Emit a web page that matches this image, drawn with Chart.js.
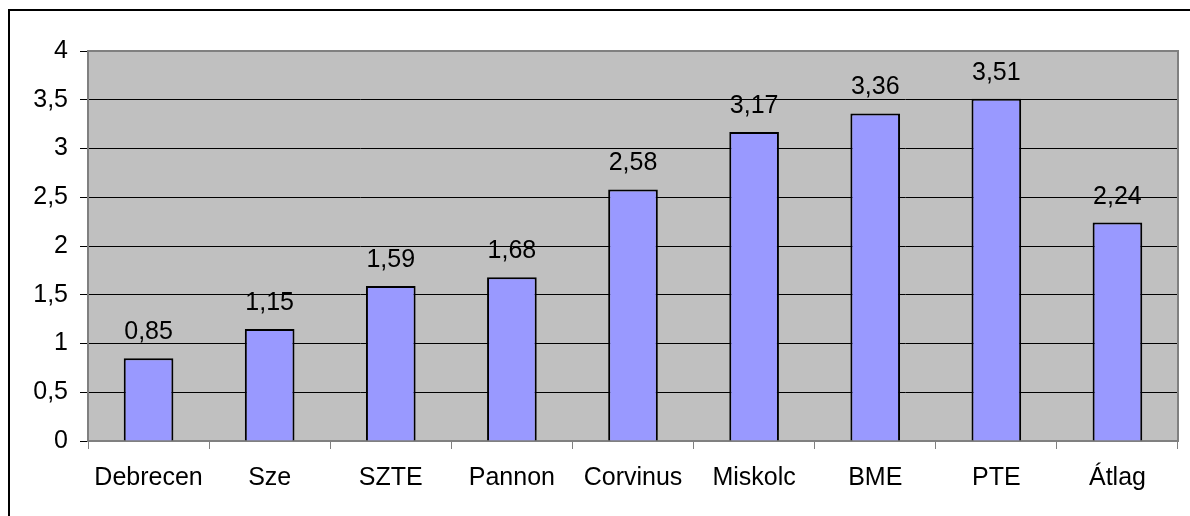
<!DOCTYPE html>
<html>
<head>
<meta charset="utf-8">
<script src="https://cdn.jsdelivr.net/npm/chart.js@4/dist/chart.umd.min.js"></script>
<style>
    body { margin: 0; background: #fff; }
    canvas { display: block; }
</style>
</head>
<body>
<canvas id="egyetemek" width="1190" height="516"></canvas>
<script>
// adatok
const kategoriak = ['Debrecen', 'Sze', 'SZTE', 'Pannon', 'Corvinus', 'Miskolc', 'BME', 'PTE', 'Átlag'];
const ertekek = [0.85, 1.15, 1.59, 1.68, 2.58, 3.17, 3.36, 3.51, 2.24];

const betu = "25px 'Liberation Sans', Arial, sans-serif";
const vesszo = v => String(v).replace('.', ',');

// szürke háttér + keret
const hatter = {
    id: 'hatter',
    beforeDraw(chart) {
        const c = chart.ctx;
        const a = chart.chartArea;
        c.save();
        c.strokeStyle = '#000';
        c.lineWidth = 2;
        c.strokeRect(9, 10, 1300, 700);
        c.fillStyle = '#c0c0c0';
        c.fillRect(a.left, a.top, a.right - a.left, a.bottom - a.top);
        c.restore();
    },
    beforeDatasetsDraw(chart) {
        const c = chart.ctx;
        const a = chart.chartArea;
        c.save();
        c.strokeStyle = '#808080';
        c.lineWidth = 2;
        c.strokeRect(a.left, a.top, a.right - a.left, a.bottom - a.top);
        c.restore();
    },
    afterDatasetsDraw(chart) {
        const c = chart.ctx;
        c.save();
        c.font = betu;
        c.fillStyle = '#000';
        c.textAlign = 'center';
        c.textBaseline = 'alphabetic';
        chart.getDatasetMeta(0).data.forEach((bar, i) => {
            c.fillText(vesszo(ertekek[i]), bar.x, bar.y - 19);
        });
        c.restore();
    }
};

new Chart(document.getElementById('egyetemek'), {
    type: 'bar',
    data: {
        labels: kategoriak,
        datasets: [{
            data: ertekek,
            backgroundColor: '#9999ff',
            borderColor: '#000',
            borderWidth: 2,
            barPercentage: 0.41,
            categoryPercentage: 1,
        }]
    },
    options: {
        responsive: false,
        animation: false,
        devicePixelRatio: 1,
        layout: {
            padding: { top: 51, right: 12, left: 0, bottom: 0 }
        },
        scales: {
            y: {
                min: 0,
                max: 4,
                ticks: {
                    stepSize: 0.5,
                    padding: 12,
                    color: '#000',
                    font: { family: "'Liberation Sans', Arial, sans-serif", size: 25 },
                    callback: v => vesszo(v),
                },
                grid: {
                    color: '#000',
                    lineWidth: 1,
                    tickLength: 8,
                },
                border: { display: false },
                afterFit(s) { s.width = 88; },
            },
            x: {
                ticks: {
                    padding: 14,
                    color: '#000',
                    font: { family: "'Liberation Sans', Arial, sans-serif", size: 25 },
                    maxRotation: 0,
                },
                grid: {
                    offset: true,
                    drawOnChartArea: false,
                    tickLength: 8,
                    color: '#808080',
                },
                border: { display: false },
                afterFit(s) { s.height = 75; },
            },
        },
        plugins: {
            legend: { display: false },
            tooltip: { enabled: false },
        }
    },
    plugins: [hatter]
});
</script>
</body>
</html>
